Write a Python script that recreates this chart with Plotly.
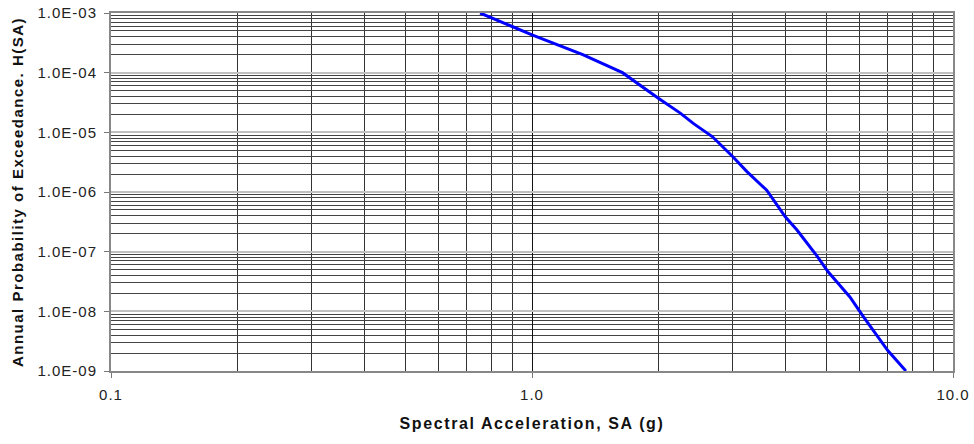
import plotly.graph_objects as go

# Data
sa = [0.753, 1.0, 1.32, 1.64, 2.0, 2.25, 2.42, 2.68, 3.0, 3.24, 3.61, 4.0, 4.26,
      4.75, 5.05, 5.69, 6.1, 7.0, 7.73]
hsa = [1.0e-3, 4.3e-4, 2.0e-4, 1.0e-4, 3.7e-5, 2.1e-5, 1.4e-5, 8.5e-6, 3.9e-6,
       2.2e-6, 1.07e-6, 3.8e-7, 2.3e-7, 8.5e-8, 4.6e-8, 1.74e-8, 8.5e-9, 2.2e-9, 1.0e-9]

x_tickvals = [0.1, 1.0, 10.0]
x_ticktext = ["0.1", "1.0", "10.0"]
y_tickvals = [1e-9, 1e-8, 1e-7, 1e-6, 1e-5, 1e-4, 1e-3]
y_ticktext = ["1.0E-09", "1.0E-08", "1.0E-07", "1.0E-06", "1.0E-05", "1.0E-04", "1.0E-03"]

fig = go.Figure()
fig.add_trace(go.Scatter(x=sa, y=hsa, mode="lines",
                         line=dict(color="#0000ff", width=3), showlegend=False))

tickfont = dict(family="Liberation Sans, Arial, sans-serif", size=15, color="#222")
titlefont = dict(family="Liberation Sans, Arial, sans-serif", size=15, color="#111",
                 weight="bold")

fig.update_layout(
    width=974, height=444,
    margin=dict(l=111, r=21, t=13, b=73),
    paper_bgcolor="white", plot_bgcolor="white",
    xaxis=dict(
        type="log", range=[-1, 1],
        tickvals=x_tickvals, ticktext=x_ticktext,
        tickfont=tickfont, ticks="outside", ticklen=5, tickcolor="#777",
        ticklabelstandoff=4,
        showgrid=True, gridcolor="#111", gridwidth=1,
        minor=dict(dtick="D1", showgrid=True, gridcolor="#333", gridwidth=1, ticks=""),
        showline=True, linecolor="#888", linewidth=2, mirror=True,
        title=dict(text="Spectral Acceleration, SA (g)", font=dict(titlefont, size=16),
                   standoff=16),
        zeroline=False, automargin=False,
    ),
    yaxis=dict(
        type="log", range=[-9, -3],
        tickvals=y_tickvals, ticktext=y_ticktext,
        tickfont=tickfont, ticks="outside", ticklen=5, tickcolor="#777",
        ticklabelstandoff=4,
        showgrid=True, gridcolor="#c0c0c0", gridwidth=2,
        minor=dict(dtick="D1", showgrid=True, gridcolor="#444", gridwidth=1, ticks=""),
        showline=True, linecolor="#888", linewidth=2, mirror=True,
        title=dict(text="Annual Probability of Exceedance. H(SA)", font=titlefont,
                   standoff=17),
        zeroline=False, automargin=False,
    ),
)

post = """
document.body.style.margin = '0';
var s = document.createElement('style');
s.textContent = '.xtitle {letter-spacing: 1.6px;} .ytitle {letter-spacing: 1.5px;} .xtick text, .ytick text {letter-spacing: 1px;}';
document.head.appendChild(s);
"""

fig.write_html("out.html", post_script=post, config={"displayModeBar": False})
